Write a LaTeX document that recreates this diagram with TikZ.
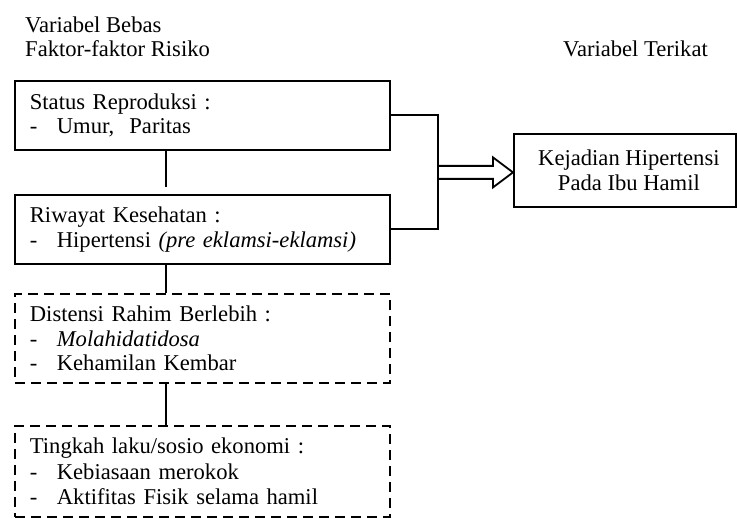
\documentclass[tikz,border=0pt]{standalone}
\usepackage{fontspec}
\setmainfont{Liberation Serif}
\usetikzlibrary{calc}
\newcommand\itm[1]{\makebox[27pt][l]{-}#1}
\begin{document}
\begin{tikzpicture}[x=1pt,y=-1pt,
  txt/.style={inner sep=0pt,font=\fontsize{22.6}{24.5}\selectfont},
  boxsolid/.style={draw,line width=1.8pt,anchor=north west,minimum width=375pt,
     text width=345pt,inner xsep=15pt,inner ysep=0pt,align=left,
     font=\fontsize{22.6}{24.5}\selectfont},
  boxdash/.style={boxsolid,dash pattern=on 10pt off 6pt},
  conn/.style={line width=1.8pt}]
\useasboundingbox (0,0) rectangle (737,518);
\node[txt,anchor=base west] (h1) at (25,33) {Variabel Bebas};
\node[txt,anchor=base west] (h2) at (25,57) {Faktor-faktor Risiko};
\node[txt,anchor=base west] (h3) at (563,57) {Variabel Terikat};

\node[boxsolid,minimum height=69pt] (b1) at (14,80)
  {Status Reproduksi :\\ \itm{Umur,\ \ Paritas}};
\node[boxsolid,minimum height=69pt] (b2) at (14,194)
  {Riwayat Kesehatan :\\ \itm{Hipertensi \textit{(pre eklamsi-eklamsi)}}};
\node[boxdash,minimum height=89pt] (b3) at (14,293)
  {Distensi Rahim Berlebih :\\ \itm{\textit{Molahidatidosa}}\\ \itm{Kehamilan Kembar}};
\node[boxdash,minimum height=91pt,font=\fontsize{22.6}{25.5}\selectfont] (b4) at (14,425)
  {Tingkah laku/sosio ekonomi :\\ \itm{Kebiasaan merokok}\\ \itm{Aktifitas Fisik selama hamil}};
\node[draw,line width=1.8pt,anchor=north west,minimum width=222pt,minimum height=73pt,
  align=center,inner sep=0pt,font=\fontsize{22.6}{25}\selectfont] (b5) at (513,133)
  {\hspace*{8pt}Kejadian Hipertensi\\\hspace*{8pt}Pada Ibu Hamil};

\coordinate (cx) at (166,0);
\coordinate (jx) at (438,0);
\draw[conn] (b1.south -| cx) -- ($(b2.north -| cx)+(0,-7)$);
\draw[conn] (b2.south -| cx) -- (b3.north -| cx);
\draw[conn] (b3.south -| cx) -- (b4.north -| cx);
\draw[conn] (b1.east) -- (b1.east -| jx) -- (b2.east -| jx) -- (b2.east);
\coordinate (ac) at ($(b1.east -| jx)!0.5!(b2.east -| jx)$);
\coordinate (tip) at (b5.west |- ac);
\draw[conn,line join=miter] ($(ac)+(0,-6.5)$) -- ($(tip)+(-20,-6.5)$) -- ($(tip)+(-20,-15)$)
  -- (tip) -- ($(tip)+(-20,15)$) -- ($(tip)+(-20,6.5)$) -- ($(ac)+(0,6.5)$);
\end{tikzpicture}
\end{document}
